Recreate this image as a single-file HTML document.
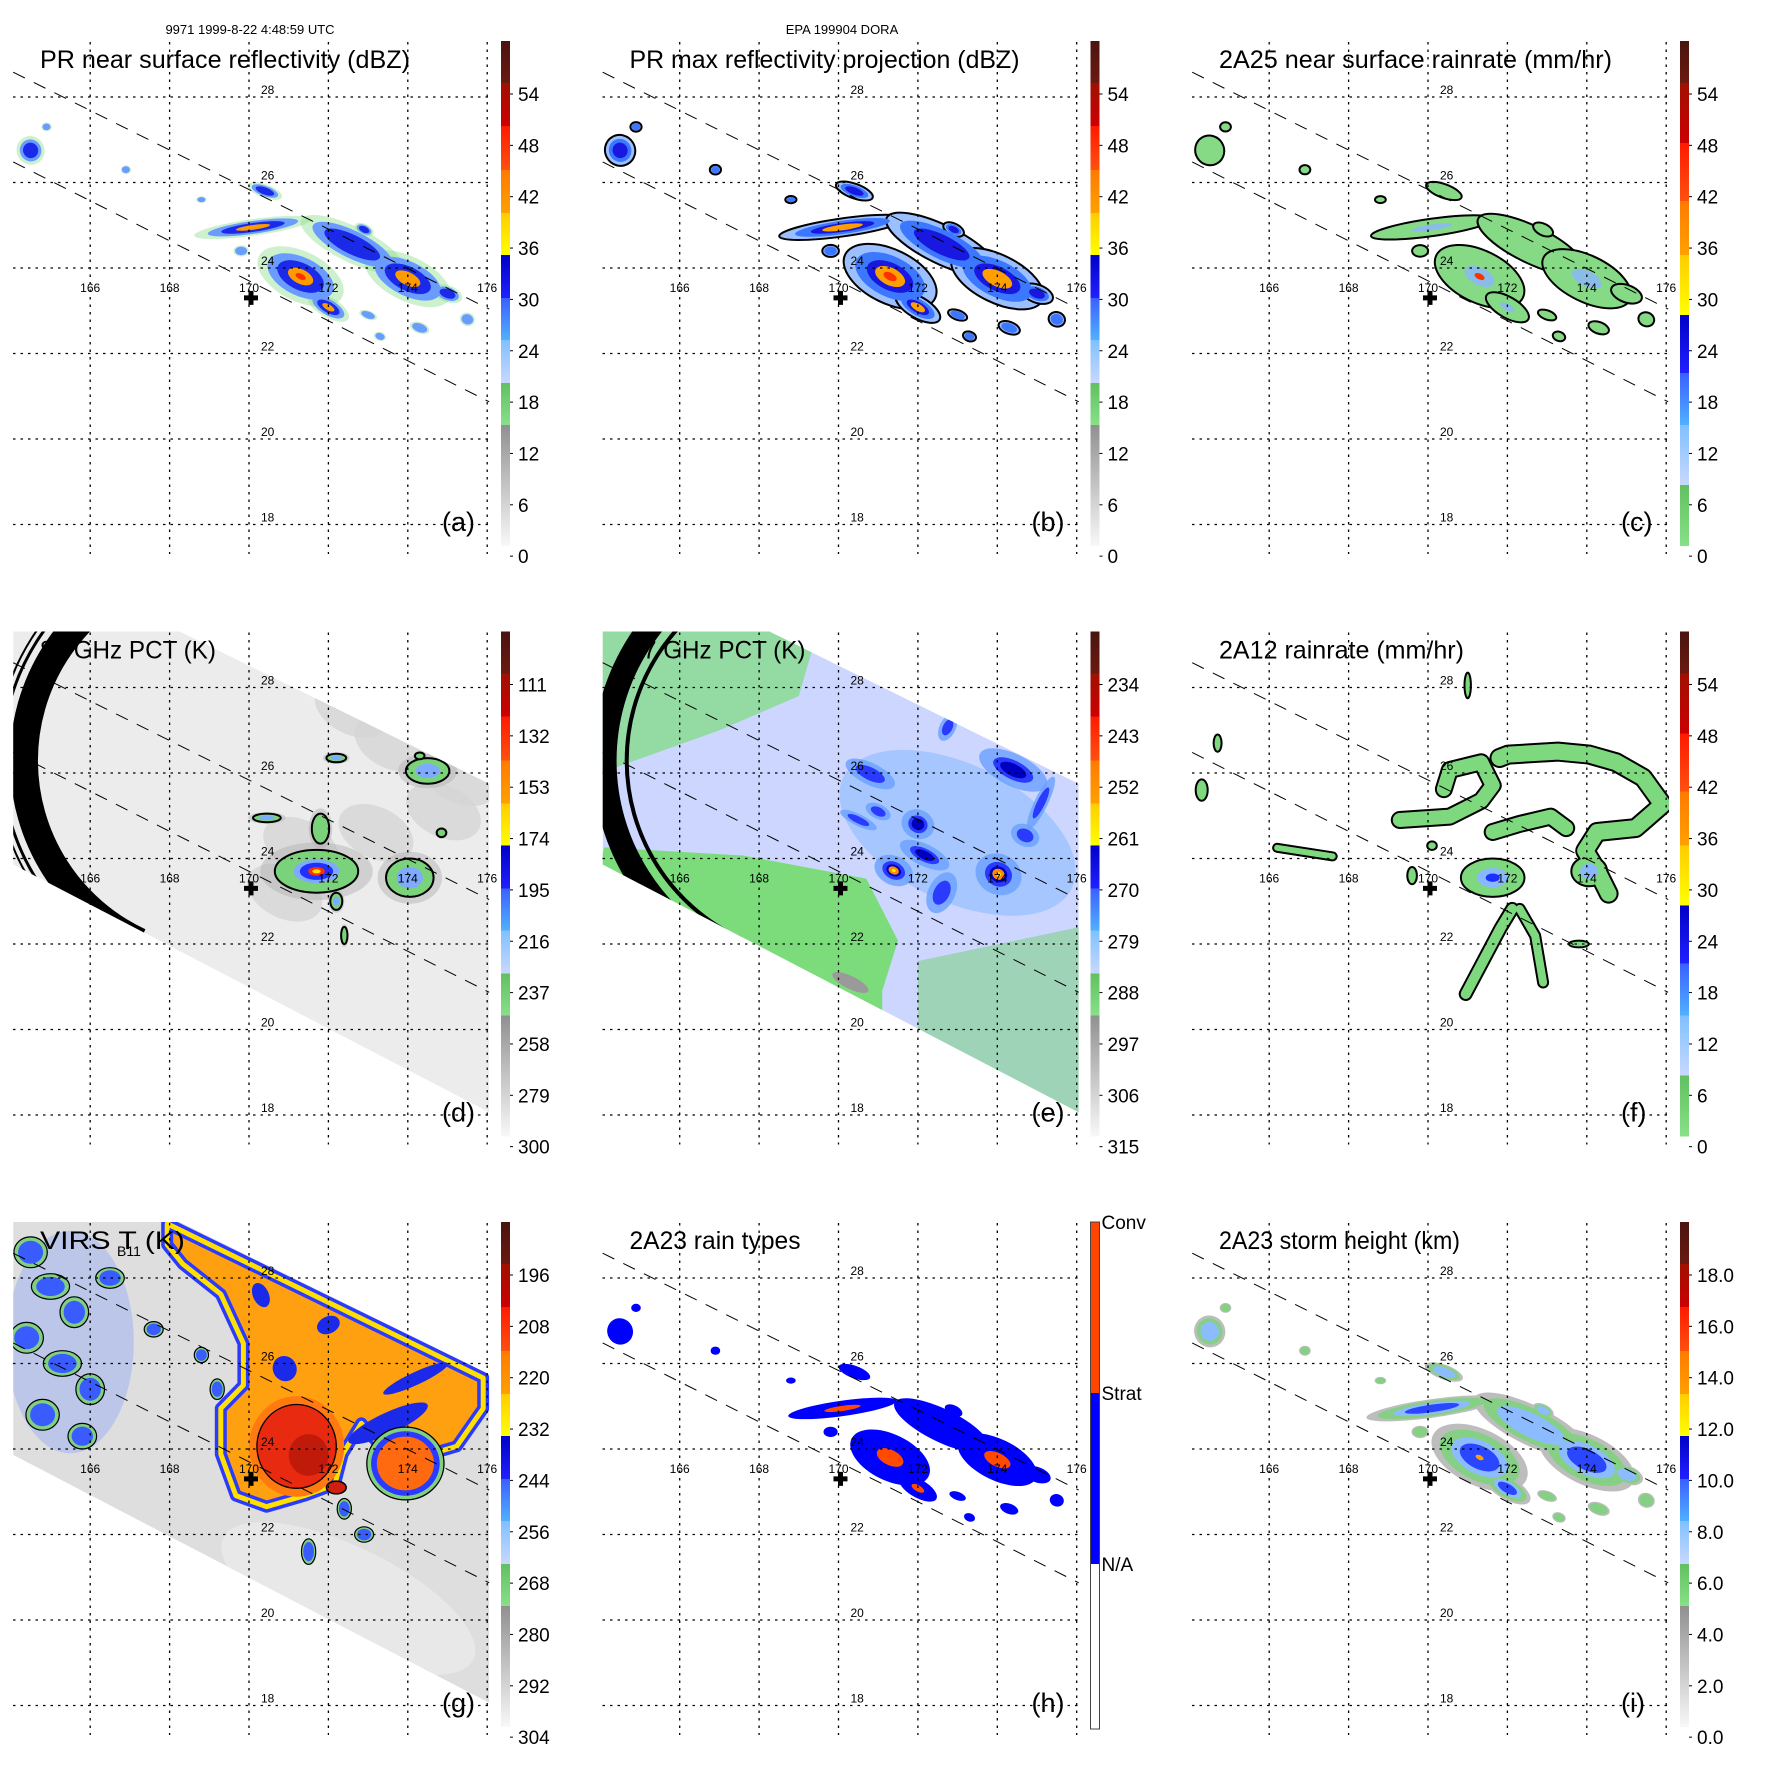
<!DOCTYPE html>
<html><head><meta charset="utf-8"><title>TRMM DORA 9-panel</title>
<style>html,body{margin:0;padding:0;background:#fff}svg{display:block}text{font-family:"Liberation Sans",sans-serif}</style>
</head><body>
<svg id="fig" xmlns="http://www.w3.org/2000/svg" width="1771" height="1771" viewBox="0 0 1771 1771">
<rect width="1771" height="1771" fill="#fff"/>
<text x="250" y="34" font-size="13" text-anchor="middle">9971 1999-8-22 4:48:59 UTC</text>
<text x="842" y="34" font-size="13" text-anchor="middle">EPA 199904 DORA</text>
</svg>
<script>
// ---------- data arrays ----------
const lonTicks=[166,168,170,172,174,176];
const latTicks=[18,20,22,24,26,28];
const titles=["PR near surface reflectivity (dBZ)","PR max reflectivity projection (dBZ)","2A25 near surface rainrate (mm/hr)","85 GHz PCT (K)","37 GHz PCT (K)","2A12 rainrate (mm/hr)","VIRS T   (K)","2A23 rain types","2A23 storm height (km)"];
const letters=["(a)","(b)","(c)","(d)","(e)","(f)","(g)","(h)","(i)"];
const cbA=["54","48","42","36","30","24","18","12","6","0"];
const cbD=["111","132","153","174","195","216","237","258","279","300"];
const cbE=["234","243","252","261","270","279","288","297","306","315"];
const cbG=["196","208","220","232","244","256","268","280","292","304"];
const cbI=["18.0","16.0","14.0","12.0","10.0","8.0","6.0","4.0","2.0","0.0"];
const cbH=["Conv","Strat","N/A"];
const swathUpLon=[164.06,176.05], swathUpLat=[28.58,23.04];
const swathLoLon=[164.06,176.05], swathLoLat=[26.48,20.87];
const tmiLon=[164.06,168.26,176.05,176.05,164.06], tmiLat=[29.31,29.31,25.75,18.06,23.86];
const crossLon=170.05, crossLat=23.3;
// PR rain features
const fLon=[170.1,172.6,171.3,172.0,174.0,170.4,164.5,175.5,174.3,173.0,169.8,175.0,173.3,164.9,166.9,168.8,172.9];
const fLat=[24.95,24.55,23.8,23.08,23.75,25.8,26.75,22.8,22.6,22.9,24.4,23.4,22.4,27.3,26.3,25.6,24.9];
const fRx=[1.15,1.1,0.9,0.45,0.9,0.35,0.28,0.15,0.2,0.18,0.15,0.3,0.12,0.1,0.1,0.1,0.2];
const fRy=[0.15,0.32,0.45,0.18,0.4,0.12,0.25,0.12,0.1,0.08,0.1,0.15,0.08,0.08,0.08,0.06,0.1];
const fAng=[-8,26,26,30,26,20,60,20,20,20,0,20,20,0,0,0,26];
const fLev=[3,2,4,3,3,2,2,1,1,1,1,2,1,1,1,1,2];
// 85 GHz blobs
const dLon=[171.7,174.05,174.5,171.8,170.45,172.2,174.3,174.85,172.2,172.4];
const dLat=[23.7,23.55,26.05,24.7,24.95,26.35,26.4,24.6,23.0,22.2];
const dRx=[1.05,0.6,0.55,0.22,0.35,0.25,0.12,0.12,0.15,0.08];
const dRy=[0.5,0.45,0.3,0.35,0.1,0.1,0.08,0.1,0.2,0.2];
const dLev=[4,2,2,1,2,2,1,1,2,1];
const dPatchLon=[172.6,173.6,174.9,171.3,173.2,170.9,175.3];
const dPatchLat=[27.5,26.7,25.1,24.3,24.6,23.2,25.9];
// 37 GHz
const eLon=[174.4,171.39,172.17,174.03,172.0,170.5,170.8,172.75,174.7,175.1,172.6,171.0];
const eLat=[26.07,23.72,24.08,23.63,24.8,24.9,25.98,27.07,24.54,25.3,23.2,25.1];
const eRx=[0.55,0.3,0.4,0.35,0.25,0.3,0.4,0.12,0.22,0.1,0.2,0.2];
const eRy=[0.22,0.2,0.15,0.28,0.2,0.08,0.15,0.2,0.15,0.4,0.3,0.1];
const eLev=[3,4,3,4,3,2,2,2,2,2,2,2];
const eGreenLoLon=[164.0,164.1,167.6,170.7,171.5,171.1,171.1,164.0];
const eGreenLoLat=[23.9,24.26,24.07,23.53,22.08,20.9,19.5,22.0];
const eGreenUpLon=[164.0,169.5,169.0,167.0,165.5,164.0];
const eGreenUpLat=[29.4,29.4,27.8,27.0,26.5,26.0];
const eGreenRLon=[172.0,176.1,176.1,172.0];
const eGreenRLat=[21.6,22.4,18.0,19.6];
// 2A12 bands (paths)
const fTopLon=[171.8,172.02,173.27,174.06,174.74,175.42,175.91,175.23,174.26,173.96,174.26,174.55];
const fTopLat=[26.35,26.43,26.5,26.43,26.25,25.89,25.26,24.71,24.62,24.18,23.72,23.18];
const fLeftLon=[169.29,170.55,171.34,171.63,171.34,170.55,170.4];
const fLeftLat=[24.9,24.98,25.35,25.71,26.25,26.07,25.62];
const fMidLon=[171.63,172.31,173.09,173.48];
const fMidLat=[24.62,24.81,24.98,24.71];
const fS1Lon=[170.95,171.82,172.12], fS1Lat=[20.83,22.36,22.82];
const fS2Lon=[172.9,172.7,172.31], fS2Lat=[21.1,22.19,22.82];
const fS3Lon=[166.2,167.6], fS3Lat=[24.25,24.05];
const fBLon=[171.63,174.06,164.3,164.7,169.6,170.1,171.0,173.8];
const fBLat=[23.55,23.7,25.6,26.7,23.6,24.3,28.05,22.0];
const fBRx=[0.8,0.45,0.15,0.1,0.12,0.12,0.08,0.25];
const fBRy=[0.45,0.35,0.25,0.2,0.2,0.1,0.3,0.08];
const fBLev=[3,2,1,1,1,1,1,1];
// VIRS
const gAnvLon=[167.94,175.9,175.9,175.23,174.56,173.31,172.83,172.36,172.16,171.4,170.44,169.67,169.29,169.29,169.86,169.86,169.29,168.33,167.94];
const gAnvLat=[29.27,25.66,24.95,24.06,23.88,24.06,24.6,23.88,23.17,22.91,22.65,22.91,23.88,24.95,25.49,26.47,27.62,28.33,28.78];
const gRedLon=171.2, gRedLat=24.06, gRedRx=1.0, gRedRy=0.98;
const gOrLon=173.94, gOrLat=23.66, gOrRx=0.72, gOrRy=0.63;
const gBlueLon=[173.5,174.2,170.9,172.0,170.3,164.5,165.0,165.6,164.4,165.3,166.0,164.8,165.8,166.5,167.6,168.8,169.2,172.4,172.9,171.5];
const gBlueLat=[24.6,25.65,25.88,26.9,27.6,28.6,27.8,27.2,26.6,26.0,25.4,24.8,24.3,28.0,26.8,26.2,25.4,22.6,22.0,21.6];
const gBlueRx=[1.1,0.9,0.3,0.3,0.2,0.35,0.4,0.3,0.35,0.4,0.3,0.35,0.3,0.3,0.2,0.15,0.15,0.15,0.2,0.15];
const gBlueRy=[0.25,0.15,0.3,0.2,0.3,0.3,0.25,0.3,0.3,0.25,0.3,0.3,0.25,0.2,0.15,0.15,0.2,0.2,0.15,0.25];

// ---------- layout ----------
const COLX=589.5, ROWY=590.5, X0=249, PXLON=39.7, Y0=268, PXLAT=42.75;
const svg=document.getElementById('fig');
const NS='http://www.w3.org/2000/svg';
function mk(parent,tag,attrs,name){
  const el=document.createElementNS(NS,tag);
  for(const k in attrs) el.setAttribute(k,attrs[k]);
  
  
  parent.appendChild(el);
  return el;
}
function P(i){return {ox:(i%3)*COLX, oy:Math.floor(i/3)*ROWY, i:i};}
function X(p,lon){return p.ox+X0+(lon-170)*PXLON;}
function Y(p,lat){return p.oy+Y0-(lat-24)*PXLAT;}
function poly(p,lons,lats){return lons.map((l,k)=>X(p,l).toFixed(1)+','+Y(p,lats[k]).toFixed(1)).join(' ');}
function pathD(p,lons,lats){return 'M'+lons.map((l,k)=>X(p,l).toFixed(1)+' '+Y(p,lats[k]).toFixed(1)).join(' L');}
function ell(g,p,lon,lat,rx,ry,ang,s,attrs,name){
  const cx=X(p,lon), cy=Y(p,lat);
  const a=Object.assign({cx:cx.toFixed(1),cy:cy.toFixed(1),rx:(rx*PXLON*s).toFixed(1),ry:(ry*PXLAT*s).toFixed(1),transform:'rotate('+ang+' '+cx.toFixed(1)+' '+cy.toFixed(1)+')'},attrs);
  return mk(g,'ellipse',a,name);
}
function leftArc(g,cx,cy,r,w){
  const t=115*Math.PI/180;
  const x1=cx+r*Math.cos(t), y1=cy-r*Math.sin(t), y2=cy+r*Math.sin(t);
  return mk(g,'path',{d:`M${x1.toFixed(1)} ${y1.toFixed(1)} A${r} ${r} 0 0 0 ${x1.toFixed(1)} ${y2.toFixed(1)}`,fill:'none',stroke:'#000','stroke-width':w},'scan-edge-arc');
}
const defs=mk(svg,'defs',{},'defs');
const bandsA=[["#4a1410","#6a1a10",41,83],["#a01000","#cc0000",83,126],["#ff1a00","#ff5010",126,170],["#ff7a00","#ffa000",170,213],["#ffcc00","#ffff00",213,255],["#0000c8","#2020ff",255,298],["#3a60ff","#50b0ff",298,340],["#80c0ff","#c8d8ff",340,383],["#60c060","#88e088",383,425],["#909090","#f8f8f8",425,546]];
const bandsC=[["#4a1410","#6a1a10",41,83],["#a01000","#cc0000",83,143],["#ff1a00","#ff5010",143,201],["#ff7a00","#ffa000",201,255],["#ffcc00","#ffff00",255,315],["#0000c8","#2020ff",315,373],["#3a60ff","#50b0ff",373,425],["#80c0ff","#c8d8ff",425,485],["#60c060","#88e088",485,546]];
const bandsH=[["#ff4500","#ff4500",41,212],["#0000ff","#0000ff",212,383],["#ffffff","#ffffff",383,548]];

function cross(g,p){
  const cx=X(p,crossLon), cy=Y(p,crossLat);
  mk(g,'path',{d:`M${cx-7} ${cy-2.5}h14v5h-14z M${cx-2.5} ${cy-7}h5v14h-5z`,fill:'#000'},'storm-center-marker');
}
function colorbar(p,bands,labels,isH){
  const g=mk(svg,'g',{},'colorbar');
  const bx=p.ox+501;
  bands.forEach((b,k)=>{
    const gid='gr'+p.i+'_'+k;
    const lg=mk(defs,'linearGradient',{id:gid,x1:0,y1:0,x2:0,y2:1},'colorbar-gradient');
    mk(lg,'stop',{offset:0,'stop-color':b[0]},'gradient-stop');
    mk(lg,'stop',{offset:1,'stop-color':b[1]},'gradient-stop');
    mk(g,'rect',{x:bx,y:p.oy+b[2],width:9,height:b[3]-b[2],fill:'url(#'+gid+')'},'colorbar-band');
  });
  if(isH){
    mk(g,'rect',{x:bx,y:p.oy+41,width:9,height:507,fill:'none',stroke:'#444','stroke-width':1},'colorbar-border');
    const ys=[41,212,383];
    labels.forEach((t,k)=>{const tx=mk(g,'text',{x:p.ox+512,y:p.oy+ys[k]+7,'font-size':19},'colorbar-label');tx.textContent=t;});
  } else {
    labels.forEach((t,k)=>{
      const yy=p.oy+94+k*51.35;
      mk(g,'line',{x1:bx+9,x2:bx+12,y1:yy,y2:yy,stroke:'#000','stroke-width':1},'colorbar-tick');
      const tx=mk(g,'text',{x:p.ox+518,y:yy+7,'font-size':19},'colorbar-label');tx.textContent=t;
    });
  }
}
function frame(p){
  const g=mk(svg,'g',{},'map-frame');
  lonTicks.forEach(l=>{mk(g,'line',{x1:X(p,l),x2:X(p,l),y1:p.oy+42,y2:p.oy+554,stroke:'#000','stroke-width':1.3,'stroke-dasharray':'2.5 5'},'longitude-gridline');});
  latTicks.forEach(l=>{mk(g,'line',{x1:p.ox+13,x2:p.ox+490,y1:Y(p,l),y2:Y(p,l),stroke:'#000','stroke-width':1.3,'stroke-dasharray':'2.5 5'},'latitude-gridline');});
  mk(g,'line',{x1:X(p,swathUpLon[0]),y1:Y(p,swathUpLat[0]),x2:X(p,swathUpLon[1]),y2:Y(p,swathUpLat[1]),stroke:'#000','stroke-width':1,'stroke-dasharray':'13 10'},'pr-swath-edge-upper');
  mk(g,'line',{x1:X(p,swathLoLon[0]),y1:Y(p,swathLoLat[0]),x2:X(p,swathLoLon[1]),y2:Y(p,swathLoLat[1]),stroke:'#000','stroke-width':1,'stroke-dasharray':'13 10'},'pr-swath-edge-lower');
  latTicks.forEach(l=>{const t=mk(g,'text',{x:X(p,170)+12,y:Y(p,l)-3,'font-size':12},'latitude-label');t.textContent=l;});
  lonTicks.forEach(l=>{const t=mk(g,'text',{x:X(p,l),y:p.oy+292,'font-size':12,'text-anchor':'middle'},'longitude-label');t.textContent=l;});
  cross(g,p);
}
function clipFor(p){
  const id='clip'+p.i;
  const cp=mk(defs,'clipPath',{id:id},'plot-clip');
  mk(cp,'rect',{x:p.ox+13,y:p.oy+41,width:477,height:506},'clip-rect');
  const id2='tclip'+p.i;
  const cp2=mk(defs,'clipPath',{id:id2},'swath-clip');
  mk(cp2,'polygon',{points:poly(p,tmiLon,tmiLat)},'swath-clip-poly');
  return [id,id2];
}
function prLayer(p,g,layers){
  layers.forEach(L=>{
    fLon.forEach((lon,k)=>{
      if(fLev[k]<L.min) return;
      ell(g,p,lon,fLat[k],fRx[k],fRy[k],fAng[k],L.s,L.a,'rain-feature');
    });
  });
}
function titleText(p,t,w,name){
  const e=mk(svg,'text',{x:p.ox+40,y:p.oy+68,'font-size':25,textLength:w,lengthAdjust:'spacingAndGlyphs'},name);
  e.textContent=t; return e;
}

for(let i=0;i<9;i++){
  const p=P(i);
  const [cid,sid]=clipFor(p);
  const g=mk(svg,'g',{'clip-path':'url(#'+cid+')'},'map-content');
  if(i===0){
    prLayer(p,g,[{s:1.3,min:1,a:{fill:'#90e090',opacity:0.45}},{s:1,min:1,a:{fill:'#6a9cff'}},{s:0.7,min:2,a:{fill:'#1a2ae8'}},{s:0.38,min:3,a:{fill:'#ff9a00'}},{s:0.15,min:4,a:{fill:'#ff3000'}}]);
  } else if(i===1){
    prLayer(p,g,[{s:1.4,min:1,a:{fill:'#9cc0ff',stroke:'#000','stroke-width':2}},{s:1.05,min:1,a:{fill:'#3c78ff'}},{s:0.7,min:2,a:{fill:'#1818e0'}},{s:0.45,min:3,a:{fill:'#ffa000'}},{s:0.2,min:4,a:{fill:'#ff3000'}}]);
  } else if(i===2){
    prLayer(p,g,[{s:1.35,min:1,a:{fill:'#86da86',stroke:'#000','stroke-width':2}},{s:0.45,min:3,a:{fill:'#8ab4ff',opacity:0.8}},{s:0.15,min:4,a:{fill:'#ff3000'}}]);
  } else if(i===7){
    prLayer(p,g,[{s:1.2,min:1,a:{fill:'#0000ff'}},{s:0.4,min:3,a:{fill:'#ff4a00'}}]);
  } else if(i===8){
    prLayer(p,g,[{s:1.45,min:1,a:{fill:'#bdbdbd'}},{s:1.2,min:1,a:{fill:'#86d086'}},{s:0.85,min:2,a:{fill:'#8cbcff'}},{s:0.6,min:3,a:{fill:'#2a46ff'}},{s:0.12,min:4,a:{fill:'#ffa000'}}]);
  } else if(i===3){
    const sg=mk(g,'g',{'clip-path':'url(#'+sid+')'},'swath-85ghz');
    mk(sg,'polygon',{points:poly(p,tmiLon,tmiLat),fill:'#ececec'},'swath-background');
    dPatchLon.forEach((l,k)=>ell(sg,p,l,dPatchLat[k],1.0,0.6,26,1,{fill:'#d4d4d4',opacity:0.75},'cold-patch'));
    const cx=X(p,169.37), cy=Y(p,26.29);
    leftArc(sg,cx,cy,200,28);
    leftArc(sg,cx,cy,222,3);
    leftArc(sg,cx,cy,228,2);
    dLon.forEach((l,k)=>ell(sg,p,l,dLat[k],dRx[k],dRy[k],0,1.35,{fill:'#b4b4b4',opacity:0.5},'blob-halo'));
    const layers=[{s:1,min:1,a:{fill:'#7ad27a',stroke:'#000','stroke-width':2}},{s:0.55,min:2,a:{fill:'#7eaaff'}},{s:0.4,min:3,a:{fill:'#2030ff'}},{s:0.2,min:4,a:{fill:'#ff3000'}},{s:0.1,min:4,a:{fill:'#ffe000'}}];
    layers.forEach(L=>dLon.forEach((l,k)=>{if(dLev[k]>=L.min) ell(sg,p,l,dLat[k],dRx[k],dRy[k],0,L.s,L.a,'pct-blob');}));
  } else if(i===4){
    const sg=mk(g,'g',{'clip-path':'url(#'+sid+')'},'swath-37ghz');
    mk(sg,'polygon',{points:poly(p,tmiLon,tmiLat),fill:'#ccd6ff'},'swath-background');
    ell(sg,p,173.0,24.6,3.2,1.6,26,1,{fill:'#a6c6ff'},'warm-rain-region');
    mk(sg,'polygon',{points:poly(p,eGreenLoLon,eGreenLoLat),fill:'#7cdc7c'},'ocean-green-lower');
    mk(sg,'polygon',{points:poly(p,eGreenUpLon,eGreenUpLat),fill:'#7cdc7c',opacity:0.7},'ocean-green-upper');
    mk(sg,'polygon',{points:poly(p,eGreenRLon,eGreenRLat),fill:'#70d070',opacity:0.5},'ocean-green-right');
    ell(sg,p,170.3,21.1,0.5,0.15,26,1,{fill:'#9a9a9a'},'gray-patch');
    const cx=X(p,169.6), cy=Y(p,26.29);
    leftArc(sg,cx,cy,218,24);
    leftArc(sg,cx,cy,196,4);
    const layers=[{s:1.7,min:1,a:{fill:'#6aa0ff',opacity:0.8}},{s:1,min:2,a:{fill:'#2a3aff'}},{s:0.65,min:3,a:{fill:'#0000c0'}},{s:0.45,min:4,a:{fill:'#ff8a00'}},{s:0.18,min:4,a:{fill:'#ffee00'}}];
    layers.forEach(L=>eLon.forEach((l,k)=>{if(eLev[k]>=L.min) ell(sg,p,l,eLat[k],eRx[k],eRy[k],26,L.s,L.a,'pct-blob');}));
  } else if(i===5){
    const paths=[[fTopLon,fTopLat],[fLeftLon,fLeftLat],[fMidLon,fMidLat],[fS1Lon,fS1Lat],[fS2Lon,fS2Lat],[fS3Lon,fS3Lat]];
    const widths=[16,14,14,10,8,6];
    paths.forEach((q,k)=>mk(g,'path',{d:pathD(p,q[0],q[1]),fill:'none',stroke:'#000','stroke-width':widths[k]+4,'stroke-linejoin':'round','stroke-linecap':'round'},'rain-band-outline'));
    fBLon.forEach((l,k)=>ell(g,p,l,fBLat[k],fBRx[k],fBRy[k],0,1,{fill:'#7ed87e',stroke:'#000','stroke-width':2},'rain-blob'));
    paths.forEach((q,k)=>mk(g,'path',{d:pathD(p,q[0],q[1]),fill:'none',stroke:'#7ed87e','stroke-width':widths[k],'stroke-linejoin':'round','stroke-linecap':'round'},'rain-band'));
    fBLon.forEach((l,k)=>{ if(fBLev[k]>=2) ell(g,p,l,fBLat[k],fBRx[k],fBRy[k],0,0.5,{fill:'#8ab8ff'},'rain-core'); if(fBLev[k]>=3) ell(g,p,l,fBLat[k],fBRx[k],fBRy[k],0,0.22,{fill:'#1a30ff'},'rain-core');});
  } else if(i===6){
    const sg=mk(g,'g',{'clip-path':'url(#'+sid+')'},'swath-virs');
    mk(sg,'polygon',{points:poly(p,tmiLon,tmiLat),fill:'#dedede'},'swath-background');
    ell(sg,p,172.5,20.5,3.5,1.2,26,1,{fill:'#e8e8e8'},'warm-region');
    ell(sg,p,165.5,26.5,1.6,2.6,0,1,{fill:'#7a9cff',opacity:0.35},'cloud-field');
    gBlueLon.forEach((l,k)=>{ if(k>=5) ell(sg,p,l,gBlueLat[k],gBlueRx[k],gBlueRy[k],0,1.2,{fill:'#80d080',stroke:'#000','stroke-width':1.2},'cloud-edge');});
    gBlueLon.forEach((l,k)=>{ if(k>=5) ell(sg,p,l,gBlueLat[k],gBlueRx[k],gBlueRy[k],0,0.9,{fill:'#3a5cff'},'cloud-cell');});
    mk(sg,'polygon',{points:poly(p,gAnvLon,gAnvLat),fill:'#ffa010',stroke:'#2a3aff','stroke-width':12,'stroke-linejoin':'round'},'anvil-outer');
    mk(sg,'polygon',{points:poly(p,gAnvLon,gAnvLat),fill:'none',stroke:'#ffe000','stroke-width':5,'stroke-linejoin':'round'},'anvil-edge');
    gBlueLon.forEach((l,k)=>{ if(k<5) ell(sg,p,l,gBlueLat[k],gBlueRx[k],gBlueRy[k],-25,1,{fill:'#1a2ae8'},'anvil-gap');});
    ell(sg,p,gRedLon,gRedLat,gRedRx,gRedRy,0,1.2,{fill:'#ff7a10'},'core-halo');
    ell(sg,p,gRedLon,gRedLat,gRedRx,gRedRy,0,1,{fill:'#e82a10',stroke:'#000','stroke-width':1.3},'cold-core');
    ell(sg,p,gRedLon+0.3,gRedLat-0.2,gRedRx,gRedRy,0,0.5,{fill:'#c01a0a'},'coldest-core');
    ell(sg,p,gOrLon,gOrLat,gOrRx,gOrRy,0,1.35,{fill:'#80d080',stroke:'#000','stroke-width':1.3},'cell-edge');
    ell(sg,p,gOrLon,gOrLat,gOrRx,gOrRy,0,1.2,{fill:'#2a3aff'},'cell-ring');
    ell(sg,p,gOrLon,gOrLat,gOrRx,gOrRy,0,1,{fill:'#ff6a10'},'cell-core');
    ell(sg,p,172.2,23.1,0.25,0.15,0,1,{fill:'#d02010',stroke:'#000','stroke-width':1.5},'small-cell');
  }
  frame(p);
  titleText(p,titles[i],[370,390,393,176,176,245,145,171,241][i],'panel-title');
  if(i===6){
    const s=mk(svg,'text',{x:p.ox+117,y:p.oy+75,'font-size':14},'title-subscript');s.textContent='B11';
  }
  const lt=mk(svg,'text',{x:p.ox+442,y:p.oy+531,'font-size':27},'panel-letter');lt.textContent=letters[i];
  const labs=[cbA,cbA,cbA,cbD,cbE,cbA,cbG,cbH,cbI][i];
  const bands=(i===2||i===5)?bandsC:(i===7?bandsH:bandsA);
  colorbar(p,bands,labs,i===7);
}
</script>
</body></html>
